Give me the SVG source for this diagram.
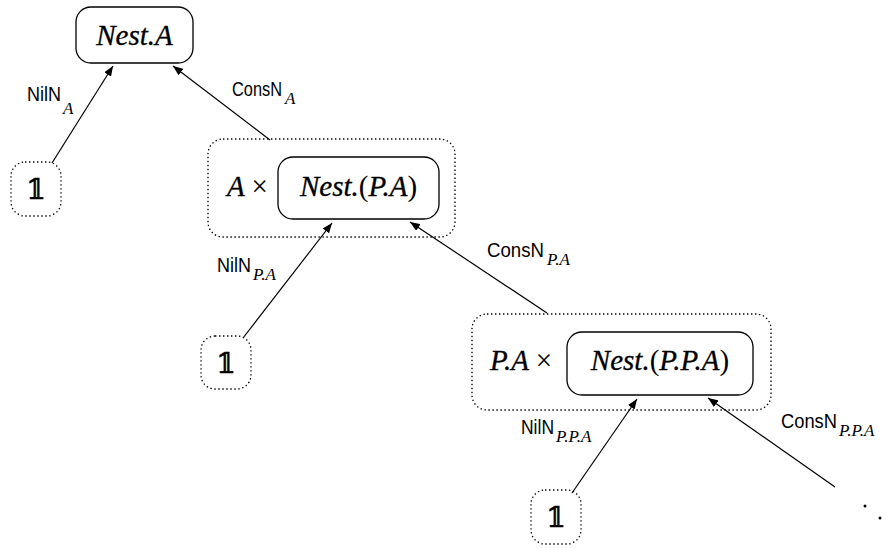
<svg xmlns="http://www.w3.org/2000/svg" width="887" height="548" viewBox="0 0 887 548">
<defs>
<marker id="ah" viewBox="0 0 10 8" refX="10" refY="4" markerWidth="10" markerHeight="8" markerUnits="userSpaceOnUse" orient="auto">
<path d="M0,0 L10,4 L0,8 Z" fill="#000"/>
</marker>
</defs>
<style>
.solid{fill:#fff;stroke:#000;stroke-width:1.3}
.dot{fill:none;stroke:#000;stroke-width:1.3;stroke-dasharray:1.4 2.6}
.math{font-family:"Liberation Serif","Times New Roman",serif;font-style:italic;font-size:29px;fill:#000;stroke:#000;stroke-width:0.3}
.up{font-family:"Liberation Serif","Times New Roman",serif;font-style:normal;font-size:29px;fill:#000;stroke-width:0}
.bb{font-family:"DejaVu Serif","DejaVu Sans",serif;font-size:28px;fill:#000;stroke:#000;stroke-width:0.6;text-anchor:middle}
.lab{font-family:"Liberation Sans",Arial,sans-serif;font-size:21px;fill:#000}
.sub{font-family:"Liberation Serif","Times New Roman",serif;font-style:italic;font-size:17px;fill:#000}
.edge{stroke:#000;stroke-width:1.2;fill:none;marker-end:url(#ah)}
</style>
<g id="connectors">
<line class="edge" x1="52" y1="163" x2="113" y2="66"/>
<line class="edge" x1="270" y1="140" x2="173" y2="66"/>
<line class="edge" x1="243" y1="338" x2="332" y2="223"/>
<line class="edge" x1="547" y1="313" x2="410" y2="222"/>
<line class="edge" x1="572" y1="493" x2="637" y2="399"/>
<line class="edge" x1="835" y1="487" x2="708" y2="398"/>
</g>
<g id="labels">
<text class="lab" x="27" y="101" textLength="34" lengthAdjust="spacingAndGlyphs">NilN</text>
<text class="sub" x="63" y="114">A</text>
<text class="lab" x="232" y="96" textLength="50" lengthAdjust="spacingAndGlyphs">ConsN</text>
<text class="sub" x="285" y="104">A</text>
<text class="lab" x="217" y="272" textLength="34" lengthAdjust="spacingAndGlyphs">NilN</text>
<text class="sub" x="253" y="280">P.A</text>
<text class="lab" x="487" y="257" textLength="57" lengthAdjust="spacingAndGlyphs">ConsN</text>
<text class="sub" x="547" y="265">P.A</text>
<text class="lab" x="521" y="434" textLength="33" lengthAdjust="spacingAndGlyphs">NilN</text>
<text class="sub" x="556" y="442">P.P.A</text>
<text class="lab" x="781" y="428" textLength="56" lengthAdjust="spacingAndGlyphs">ConsN</text>
<text class="sub" x="839" y="436">P.P.A</text>
</g>
<g id="nestA">
<rect class="solid" x="76" y="7" width="117" height="56" rx="15"/>
<text class="math" x="134.5" y="45" text-anchor="middle">Nest.A</text>
</g>
<g id="one1">
<rect class="dot" x="11" y="162" width="50" height="54" rx="14"/>
<text class="bb" x="36" y="199">𝟙</text>
</g>
<g id="pair1">
<rect class="dot" x="208" y="139" width="247" height="98" rx="15"/>
<text class="math" x="227" y="196">A <tspan class="up">×</tspan></text>
<rect class="solid" x="278" y="157" width="161" height="62" rx="15"/>
<text class="math" x="358.5" y="196" text-anchor="middle">Nest.<tspan class="up">(</tspan>P.A<tspan class="up">)</tspan></text>
</g>
<g id="one2">
<rect class="dot" x="201" y="336" width="50" height="53" rx="14"/>
<text class="bb" x="226" y="373">𝟙</text>
</g>
<g id="pair2">
<rect class="dot" x="472" y="314" width="299" height="96" rx="15"/>
<text class="math" x="490" y="370">P.A <tspan class="up">×</tspan></text>
<rect class="solid" x="567" y="332" width="186" height="63" rx="15"/>
<text class="math" x="660" y="370" text-anchor="middle">Nest.<tspan class="up">(</tspan>P.P.A<tspan class="up">)</tspan></text>
</g>
<g id="one3">
<rect class="dot" x="531" y="490" width="50" height="54" rx="14"/>
<text class="bb" x="556" y="527">𝟙</text>
</g>
<g id="ellipsis">
<circle cx="865" cy="506" r="1.5" fill="#000"/>
<circle cx="880" cy="518" r="1.5" fill="#000"/>
</g>
</svg>
